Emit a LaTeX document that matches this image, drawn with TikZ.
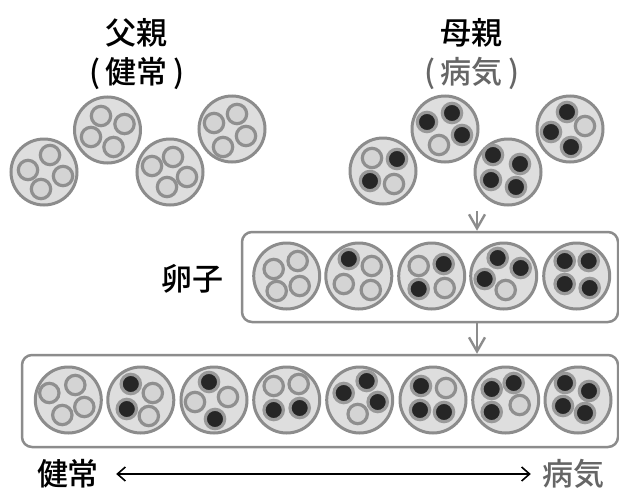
\documentclass[tikz,border=0pt]{standalone}
\usepackage{fontspec}
\setmainfont{Noto Sans CJK JP}
\newfontfamily\labfont{Noto Sans CJK JP Medium}
\usetikzlibrary{arrows.meta}

\definecolor{cellfill}{gray}{0.87}
\definecolor{cellline}{gray}{0.55}
\definecolor{ringgray}{gray}{0.56}
\definecolor{ringlight}{gray}{0.60}
\definecolor{mitolight}{gray}{0.83}
\definecolor{mitodark}{gray}{0.15}
\definecolor{sicktext}{gray}{0.40}

\tikzset{
  cell/.style={circle, draw=cellline, fill=cellfill, line width=3pt,
    minimum size=66pt, inner sep=0pt},
  mitoH/.style={draw=ringgray, fill=mitolight, line width=3.2pt},
  mitoD/.style={draw=ringlight, fill=mitodark, line width=3.2pt},
  lab/.style={inner sep=0pt, font=\labfont\fontsize{31}{36}\selectfont},
  groupbox/.style={draw=cellline, line width=2.5pt, rounded corners=10pt,
    inner sep=0pt},
  passdown/.style={draw=cellline, line width=2.2pt,
    -{Straight Barb[length=14pt,width=16pt,line width=2.4pt]}},
  scale arrow/.style={draw=black, line width=1.6pt,
    {Straight Barb[length=8pt,width=14pt]}-{Straight Barb[length=8pt,width=14pt]}}
}

% a cell as a named node, with its four mitochondria (dx/dy/H or D)
\newcommand\cellnode[3]{%
  \node[cell] (#1) at (#2) {};
  \begin{scope}[shift={(#1.center)}]
    \foreach \dx/\dy/\t in {#3} \draw[mito\t] (\dx,\dy) circle (9.7);
  \end{scope}}

\begin{document}
\begin{tikzpicture}[x=1pt,y=-1pt]
\useasboundingbox (0,0) rectangle (619,490);
\fill[white] (0,0) rectangle (619,490);

% headings
\node[lab] (father) at (136,33) {父親};
\node[lab] (fatherstate) at (137,73) {(\,健常\,)};
\node[lab] (mother) at (471,33) {母親};
\node[lab, text=sicktext] (motherstate) at (472,73) {(\,病気\,)};

% father's cells
\cellnode{P1}{44,172}{6/-17/H, -16/-2/H, 19/4/H, -3/17/H}
\cellnode{P2}{107.5,130}{-6.5/-14/H, 17/-6/H, -16.5/7/H, 6/17/H}
\cellnode{P3}{170,172}{3/-15/H, -18/-6/H, 17/5/H, -3/15/H}
\cellnode{P4}{232,129}{5/-15/H, -18/-6/H, 14/7/H, -9/18/H}

% mother's cells
\cellnode{M1}{383,171}{-11/-13/H, 14/-12/D, -13/10/D, 11/13/H}
\cellnode{M2}{445,129}{-18/-7/D, 7/-16/D, 17/6/D, -6/16/H}
\cellnode{M3}{508,172}{-15/-17/D, 12/-8/D, -17/8/D, 8/15/D}
\cellnode{M4}{570,129}{-3/-17/D, -19/3/D, 15/-3/H, 1/18/D}

% egg cells
\node[groupbox, minimum width=376pt, minimum height=90pt] (eggs) at (430,277) {};
\node[lab, anchor=east] (egglabel) at (224,279) {卵子};
\cellnode{E1}{286.7,276}{-13/-7/H, 11/-15/H, -10/15/H, 13/10/H}
\cellnode{E2}{358.8,276}{-10/-17/D, 13/-10/H, -15/8/H, 12/14/H}
\cellnode{E3}{431.7,276}{-13/-10/H, 12/-12/D, -13/13/D, 13/12/H}
\cellnode{E4}{503.7,276}{-6/-18/D, 17/-8/D, -19/3/D, 2/14/H}
\cellnode{E5}{576.7,276}{-12/-15/D, 12/-15/D, -12/8/D, 13/12/D}

% offspring cells
\node[groupbox, minimum width=596pt, minimum height=92pt] (kids) at (320,401) {};
\cellnode{K1}{68.3,400}{-19/-7/H, 7/-15/H, -6/15/H, 16/7/H}
\cellnode{K2}{140.8,400}{-10/-16/D, 12/-7/H, -14/9/D, 8/16/H}
\cellnode{K3}{214,400}{-5/-18/D, -19/2/H, 14/-3/H, 1/19/D}
\cellnode{K4}{286.7,400}{-13/-14/H, 12/-16/H, -13/10/D, 13/8/D}
\cellnode{K5}{359.7,400}{-16/-7/D, 7/-19/D, 18/2/D, -2/14/H}
\cellnode{K6}{433,400}{-12/-14/D, 13/-12/H, -13/10/D, 11/12/D}
\cellnode{K7}{505.7,400}{-14/-11/D, 8/-17/D, -14/12/D, 14/5/H}
\cellnode{K8}{578,400}{-13/-17/D, 11/-9/D, -15/6/D, 7/13/D}

% passing down from mother to eggs to offspring
\coordinate (down) at (477,211);
\draw[passdown] (down) -- (down |- eggs.north);
\draw[passdown] (down |- eggs.south) -- (down |- kids.north);

% healthy <-> sick scale
\node[lab] (healthy) at (68,474) {健常};
\node[lab, text=sicktext] (sick) at (573,474) {病気};
\draw[scale arrow] ([xshift=17pt]healthy.east) -- ([xshift=-11pt]sick.west);
\end{tikzpicture}
\end{document}
